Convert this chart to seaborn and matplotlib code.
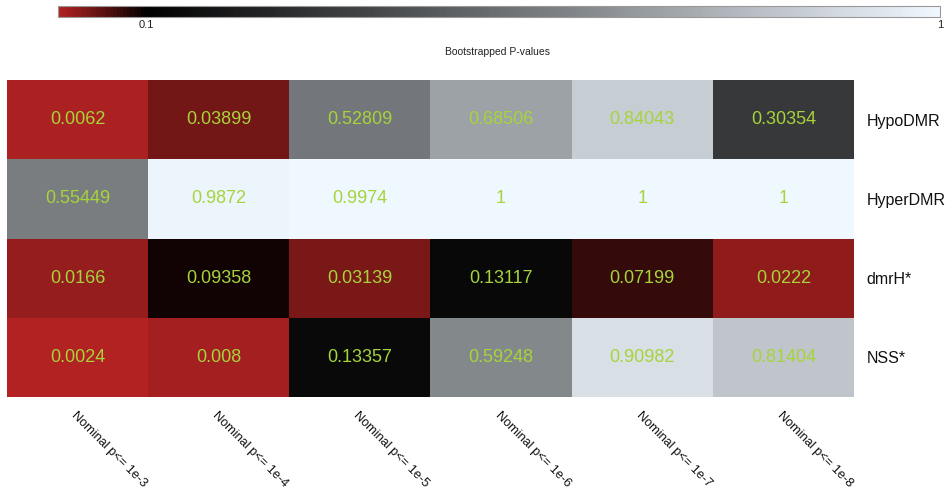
import numpy as np
import pandas as pd
import matplotlib
matplotlib.use("Agg")
import matplotlib.pyplot as plt
import seaborn as sns
from matplotlib.colors import LinearSegmentedColormap

rows = ["HypoDMR", "HyperDMR", "dmrH*", "NSS*"]
cols = ["Nominal p<= 1e-3", "Nominal p<= 1e-4", "Nominal p<= 1e-5",
        "Nominal p<= 1e-6", "Nominal p<= 1e-7", "Nominal p<= 1e-8"]
hypo = [0.0062, 0.03899, 0.52809, 0.68506, 0.84043, 0.30354]
hyper = [0.55449, 0.9872, 0.9974, 1, 1, 1]
dmrh = [0.0166, 0.09358, 0.03139, 0.13117, 0.07199, 0.0222]
nss = [0.0024, 0.008, 0.13357, 0.59248, 0.90982, 0.81404]
labels = [["0.0062", "0.03899", "0.52809", "0.68506", "0.84043", "0.30354"],
          ["0.55449", "0.9872", "0.9974", "1", "1", "1"],
          ["0.0166", "0.09358", "0.03139", "0.13117", "0.07199", "0.0222"],
          ["0.0024", "0.008", "0.13357", "0.59248", "0.90982", "0.81404"]]

df = pd.DataFrame([hypo, hyper, dmrh, nss], index=rows, columns=cols)

sns.set_theme(style="white")
plt.rcParams['font.family'] = ['Liberation Sans', 'DejaVu Sans']

cmap = LinearSegmentedColormap.from_list(
    "pv", [(0.0, "#b22222"), (0.1, "#000000"), (1.0, "#f0f8ff")], N=256)

W, H = 953, 494
fig = plt.figure(figsize=(W / 100, H / 100), dpi=100)
ax = fig.add_axes([7 / W, 1 - 397 / H, 847 / W, 317 / H])
cax = fig.add_axes([58 / W, 1 - 17 / H, 882 / W, 11 / H])

sns.heatmap(df, ax=ax, cmap=cmap, vmin=0, vmax=1, annot=np.array(labels), fmt="",
            annot_kws={"color": "#a6d43a", "fontsize": 13},
            cbar_ax=cax, cbar_kws={"orientation": "horizontal", "ticks": [0.1, 1]},
            linewidths=0)

ax.yaxis.tick_right()
ax.set_yticklabels(rows, rotation=0, fontsize=11.5, color="#111111")
ax.tick_params(axis="y", length=0, pad=9)
ax.set_xticklabels(cols, rotation=-45, ha="left", va="top",
                   rotation_mode="anchor", fontsize=9.2, color="#111111")
ax.tick_params(axis="x", length=0, pad=9)
ax.set_xlabel("")
ax.set_ylabel("")

cax.set_xticklabels(["0.1", "1"], fontsize=8, color="#222222")
cax.tick_params(axis="x", length=0, pad=2)
cbar = ax.collections[0].colorbar
cbar.outline.set_edgecolor("#999999")
cbar.outline.set_linewidth(0.8)

fig.text(498 / W, 1 - 52 / H, "Bootstrapped P-values", ha="center", va="center",
         fontsize=7.5, color="#222222")

fig.savefig("out.png", dpi=100)
